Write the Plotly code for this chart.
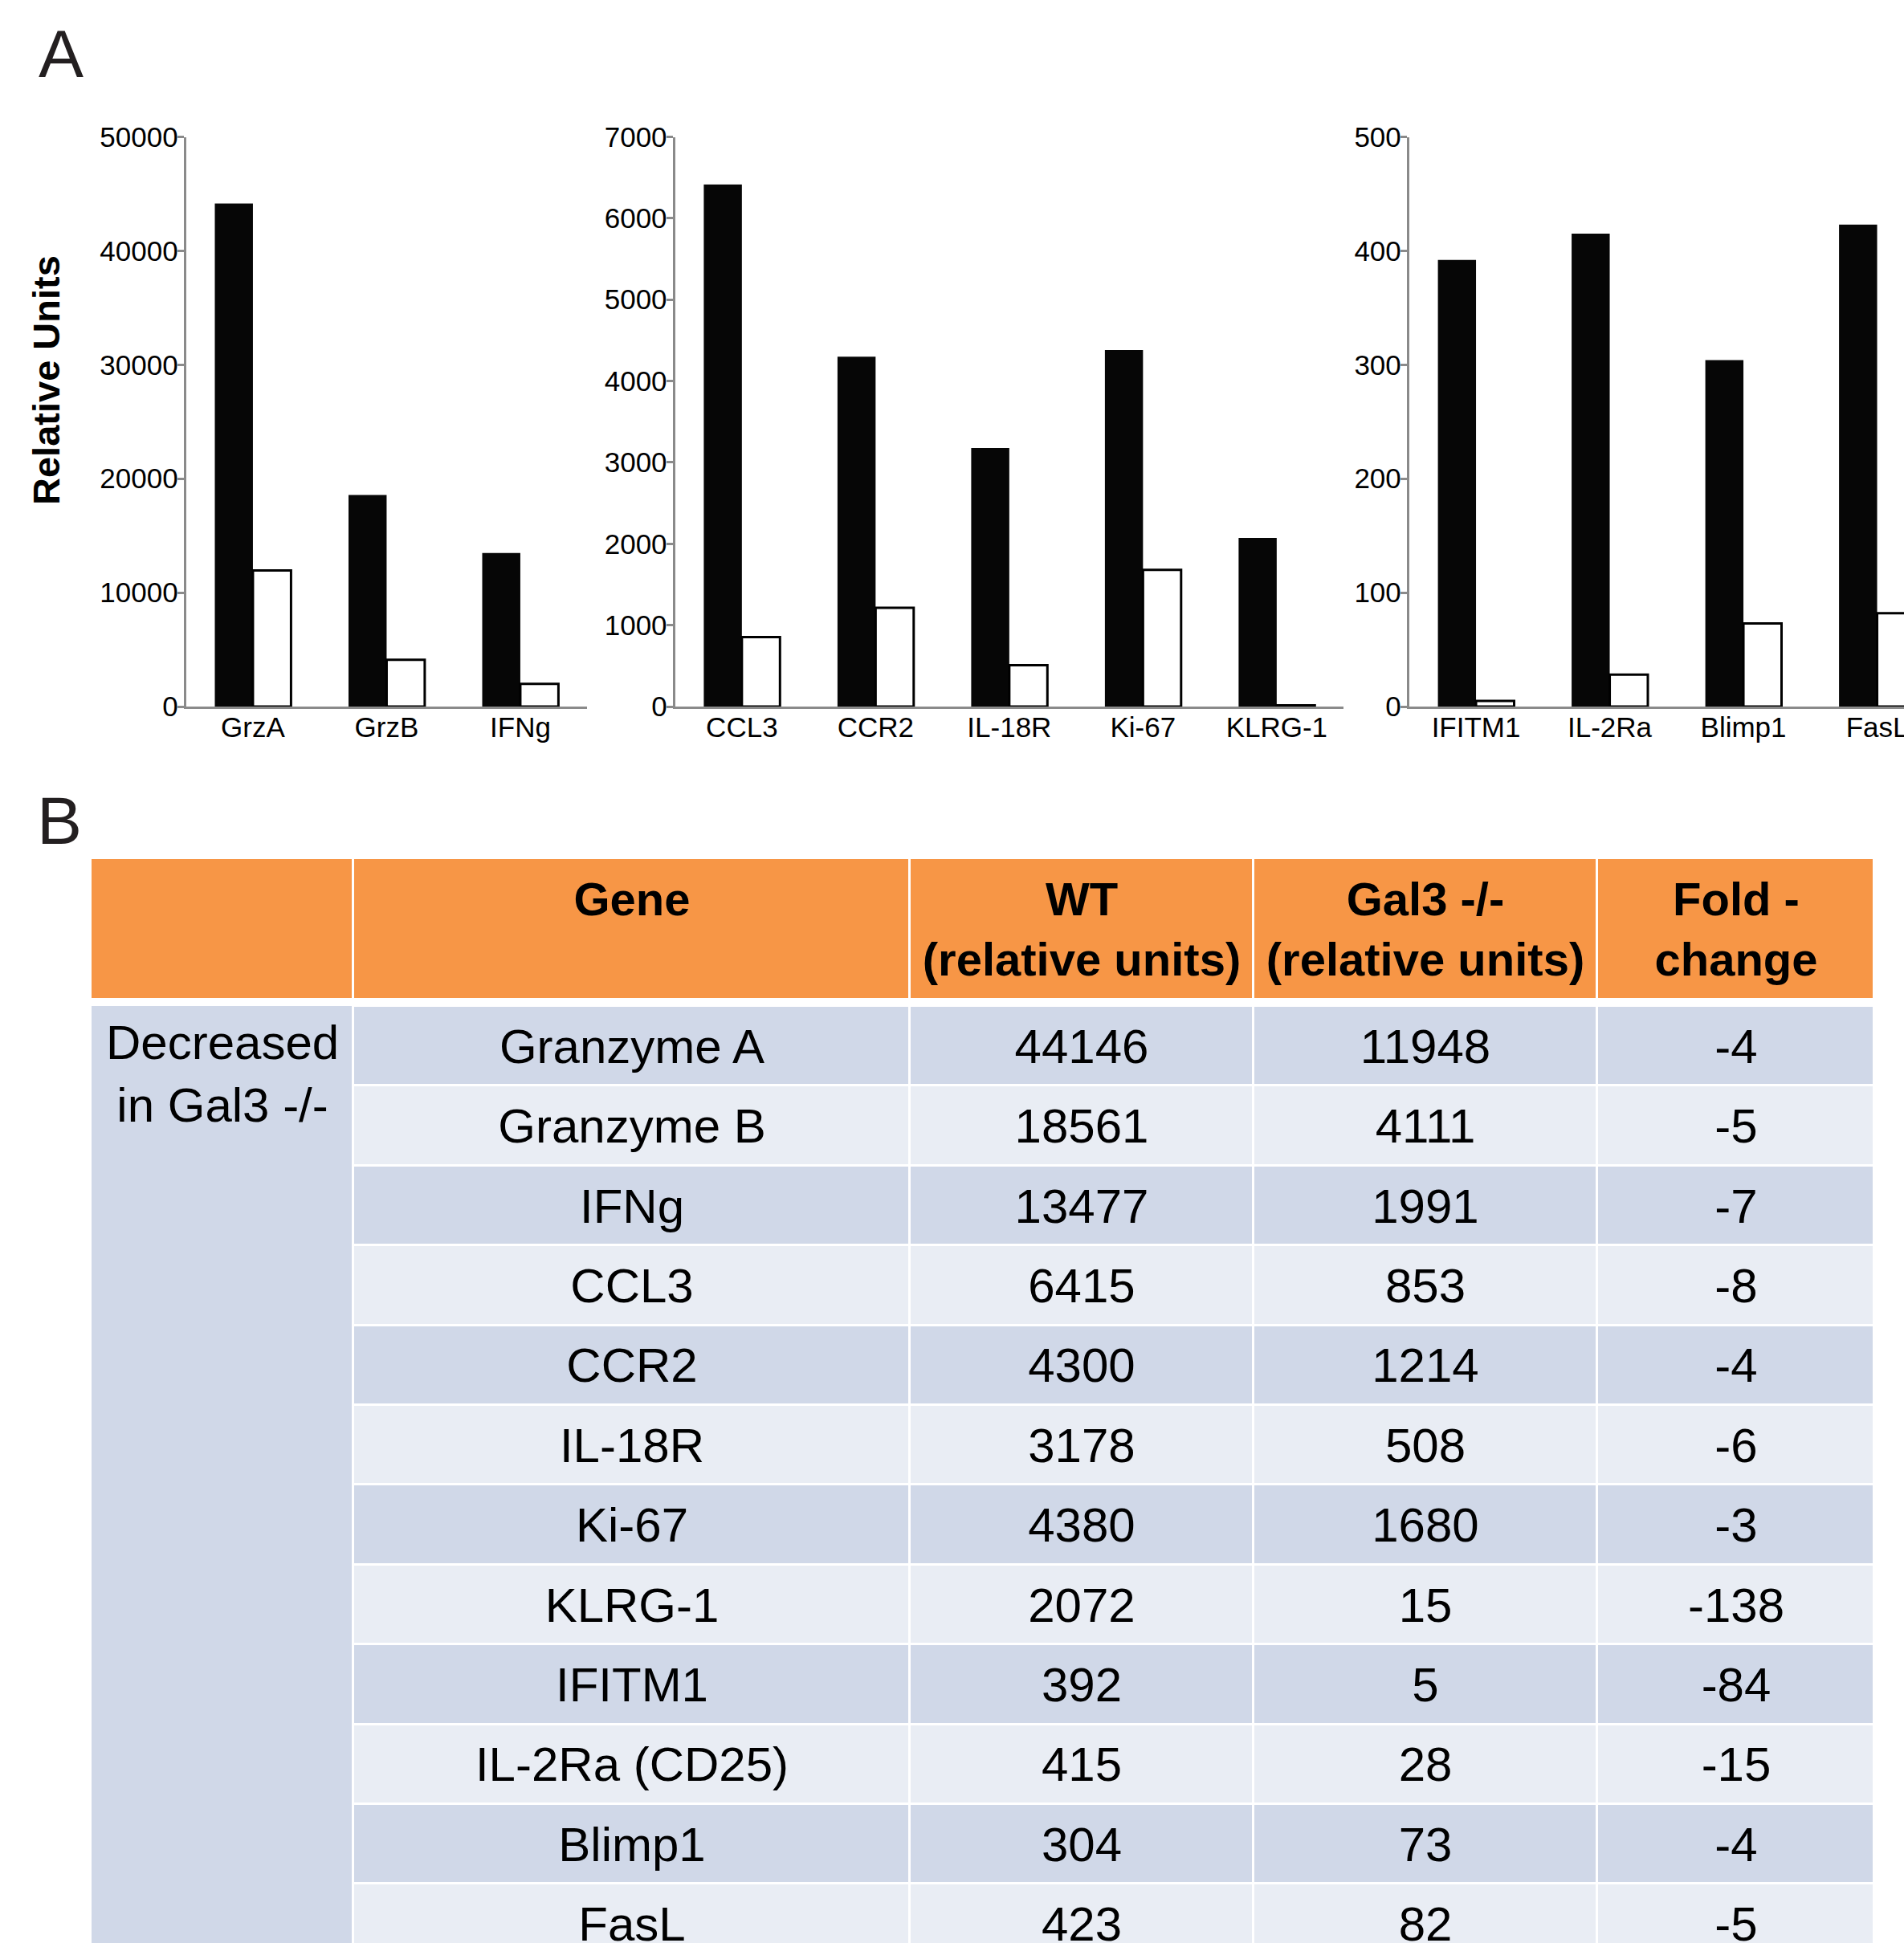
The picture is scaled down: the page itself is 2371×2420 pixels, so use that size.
import plotly.graph_objects as go

# ---------------- data ----------------
table_genes = ["Granzyme A", "Granzyme B", "IFNg", "CCL3", "CCR2", "IL-18R",
               "Ki-67", "KLRG-1", "IFITM1", "IL-2Ra (CD25)", "Blimp1", "FasL"]
chart_labels = ["GrzA", "GrzB", "IFNg", "CCL3", "CCR2", "IL-18R",
                "Ki-67", "KLRG-1", "IFITM1", "IL-2Ra", "Blimp1", "FasL"]
wt_values = [44146, 18561, 13477, 6415, 4300, 3178, 4380, 2072, 392, 415, 304, 423]
ko_values = [11948, 4111, 1991, 853, 1214, 508, 1680, 15, 5, 28, 73, 82]
fold_change = [-4, -5, -7, -8, -4, -6, -3, -138, -84, -15, -4, -5]
panel_members = [[0, 1, 2], [3, 4, 5, 6, 7], [8, 9, 10, 11]]
panel_ymax = [50000, 7000, 500]
panel_dtick = [10000, 1000, 100]
header_labels = ["", "Gene", "WT<br>(relative units)", "Gal3 -/-<br>(relative units)", "Fold -<br>change"]
group_label = "Decreased<br>in Gal3 -/-"

# ---------------- layout constants ----------------
W, H = 2371, 2420
FONT = "Liberation Sans, Arial, sans-serif"
AXIS_GRAY = "#8a8a8a"
cat_px = 166.5
panel_left_px = [231.7, 840.6, 1754.8]
plot_top_px, plot_bottom_px = 170.5, 880.0

table_left_px, table_top_px = 113.0, 1070.0
col_widths = [327, 693, 428, 428, 345]
header_h = 173.0
header_gap = 10.0
row_h = 99.4
ORANGE = "#F79646"
DARK = "#D0D8E8"
LIGHT = "#E9EDF4"

fig = go.Figure()

# ---------------- bar panels ----------------
for p, members in enumerate(panel_members):
    ax = "" if p == 0 else str(p + 1)
    labels = [chart_labels[i] for i in members]
    fig.add_trace(go.Bar(x=labels, y=[wt_values[i] for i in members],
                         marker=dict(color="#060606", line=dict(width=0)),
                         xaxis="x" + ax, yaxis="y" + ax, showlegend=False, name="WT"))
    fig.add_trace(go.Bar(x=labels, y=[ko_values[i] for i in members],
                         marker=dict(color="white", line=dict(color="black", width=3)),
                         xaxis="x" + ax, yaxis="y" + ax, showlegend=False, name="Gal3 -/-"))
    left = panel_left_px[p]
    right = min(left + len(members) * cat_px, W)
    rng_end = -0.5 + (right - left) / cat_px
    fig.update_layout(**{
        "xaxis" + ax: dict(domain=[left / W, right / W], type="category",
                           range=[-0.5, rng_end], showline=True, linecolor=AXIS_GRAY,
                           linewidth=3, ticks="", showgrid=False, zeroline=False,
                           tickfont=dict(family=FONT, size=35, color="black"),
                           ticklabelstandoff=-7,
                           anchor="y" + ax, fixedrange=True, automargin=False),
        "yaxis" + ax: dict(domain=[1 - plot_bottom_px / H, 1 - plot_top_px / H],
                           range=[0, panel_ymax[p]], dtick=panel_dtick[p], tickformat="d",
                           showline=True, linecolor=AXIS_GRAY, linewidth=3,
                           ticks="outside", ticklen=8, tickwidth=3, tickcolor=AXIS_GRAY,
                           showgrid=False, zeroline=False,
                           tickfont=dict(family=FONT, size=35, color="black"),
                           ticklabelstandoff=-8,
                           anchor="x" + ax, fixedrange=True, automargin=False),
    })

fig.update_layout(barmode="group", bargap=0.43, bargroupgap=0)

# ---------------- table (heatmap bricks on a hidden axis) ----------------
col_edges = [0]
for w in col_widths:
    col_edges.append(col_edges[-1] + w)
table_bottom = H - table_top_px
body_top = header_h + header_gap
n_rows = len(table_genes)
row_edges = [body_top + i * row_h for i in range(n_rows + 1)]

hdr_text = []
for h in header_labels:
    t = h if "<br>" in h else h + "<br> "
    hdr_text.append("<b>" + t.replace("<br>", "</b><br><b>") + "</b>")

fig.add_trace(go.Heatmap(
    x=col_edges, y=[0, header_h], z=[[1] * len(col_widths)],
    colorscale=[[0, ORANGE], [1, ORANGE]], showscale=False, xgap=3, ygap=0,
    text=[hdr_text], texttemplate="%{text}",
    textfont=dict(family=FONT, size=58, color="black"),
    hoverinfo="skip", xaxis="x4", yaxis="y4"))

fig.add_trace(go.Heatmap(
    x=col_edges[:2], y=[row_edges[0], row_edges[-1]], z=[[0]],
    colorscale=[[0, DARK], [1, DARK]], showscale=False, xgap=3, ygap=0,
    hoverinfo="skip", xaxis="x4", yaxis="y4"))

body_text = [[table_genes[i], str(wt_values[i]), str(ko_values[i]), str(fold_change[i])]
             for i in range(n_rows)]
fig.add_trace(go.Heatmap(
    x=col_edges[1:], y=row_edges, z=[[i % 2] * 4 for i in range(n_rows)],
    colorscale=[[0, DARK], [1, LIGHT]], zmin=0, zmax=1, showscale=False,
    xgap=3, ygap=3, text=body_text, texttemplate="%{text}",
    textfont=dict(family=FONT, size=60, color="black"),
    hoverinfo="skip", xaxis="x4", yaxis="y4"))

fig.update_layout(
    xaxis4=dict(domain=[table_left_px / W, (table_left_px + col_edges[-1]) / W],
                range=[0, col_edges[-1]], visible=False, anchor="y4", fixedrange=True,
                automargin=False),
    yaxis4=dict(domain=[0, 1 - table_top_px / H], range=[table_bottom, 0],
                visible=False, anchor="x4", fixedrange=True, automargin=False),
)

annotations = [
    dict(text=group_label, xref="x4", yref="y4", x=col_widths[0] / 2, y=body_top + 84,
         xanchor="center", yanchor="middle", showarrow=False,
         font=dict(family=FONT, size=60, color="black")),
    dict(text="Relative Units", xref="paper", yref="paper", x=58 / W, y=1 - 474 / H,
         xanchor="center", yanchor="middle", textangle=-90, showarrow=False,
         font=dict(family=FONT, size=47, color="black", weight="bold")),
    dict(text="A", xref="paper", yref="paper", x=46 / W, y=1 - 67 / H,
         xanchor="left", yanchor="middle", showarrow=False,
         font=dict(family=FONT, size=84, color="#231f20")),
    dict(text="B", xref="paper", yref="paper", x=44 / W, y=1 - 1022 / H,
         xanchor="left", yanchor="middle", showarrow=False,
         font=dict(family=FONT, size=84, color="#231f20")),
]

fig.update_layout(
    template="none",
    width=W, height=H, autosize=False,
    margin=dict(l=0, r=0, t=0, b=0, pad=0, autoexpand=False),
    paper_bgcolor="white", plot_bgcolor="white",
    annotations=annotations,
    font=dict(family=FONT, color="black"),
)

fig.write_html("out.html", config={"displayModeBar": False},
               post_script="document.body.style.margin='0';document.body.style.overflow='hidden';")
